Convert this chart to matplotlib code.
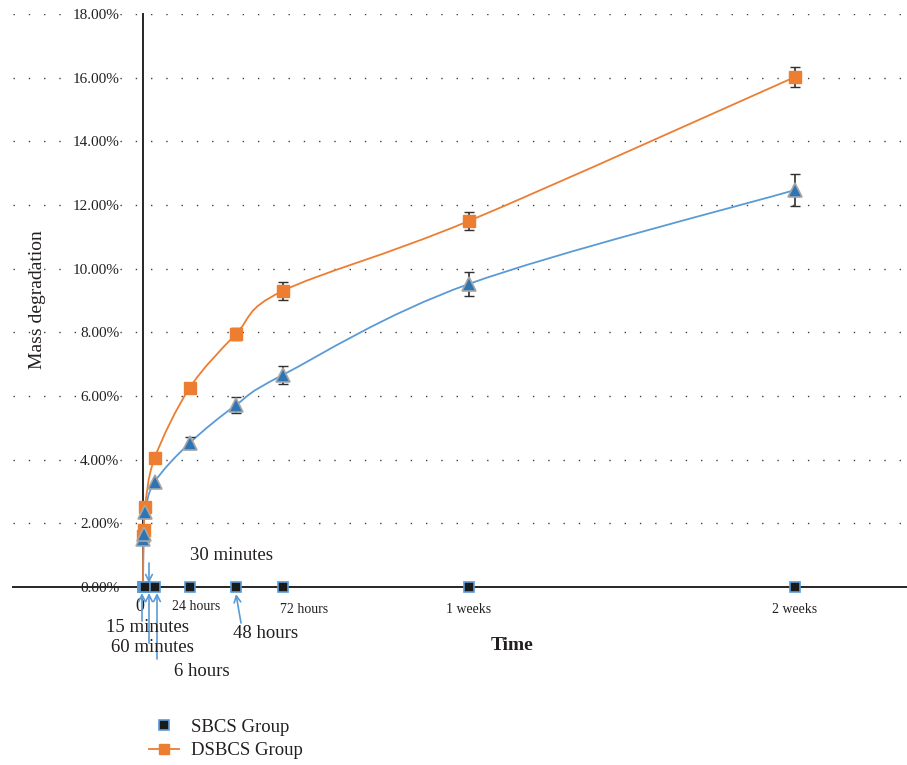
import numpy as np
import matplotlib.pyplot as plt
from matplotlib.path import Path
from matplotlib.patches import PathPatch
from matplotlib.lines import Line2D

plt.rcParams['font.family'] = ['Liberation Serif', 'DejaVu Serif']

# time points in hours
hours = [0, 0.25, 0.5, 1, 6, 24, 48, 72, 168, 336]
sbcs = [0, 0, 0, 0, 0, 0, 0, 0, 0, 0]
tri_vals = [0, 1.5, 1.65, 2.35, 3.3, 4.52, 5.72, 6.66, 9.52, 12.47]
tri_err = [0, 0, 0, 0, 0, 0.18, 0.24, 0.27, 0.39, 0.5]
dsbcs = [0, 1.6, 1.8, 2.5, 4.05, 6.25, 7.95, 9.3, 11.5, 16.02]
dsbcs_err = [0, 0, 0, 0, 0, 0.06, 0.2, 0.28, 0.28, 0.3]

yticks = [0, 2, 4, 6, 8, 10, 12, 14, 16, 18]
xlabels = ['0', '24 hours', '72 hours', '1 weeks', '2 weeks']
xlabel_pos = [-1.5, 27.5, 83, 168, 336]

TXT = '#231f20'
BLUE_LINE = '#5b9bd5'
BLUE_FILL = '#2e75b6'
ORANGE = '#ed7d31'

W, H = 907, 765
fig = plt.figure(figsize=(W / 100, H / 100), dpi=100)
ax = fig.add_axes([13 / W, (H - 587) / H, 894 / W, 573 / H])
ax.set_xlim(-67.0, 393.8)
ax.set_ylim(0, 18)


def smooth_path(xs, ys):
    # Excel-like smoothed line (Catmull-Rom as cubic Bezier)
    pts = np.column_stack([xs, ys]).astype(float)
    verts = [pts[0]]
    codes = [Path.MOVETO]
    n = len(pts)
    for i in range(n - 1):
        p0 = pts[i - 1] if i > 0 else pts[i]
        p1, p2 = pts[i], pts[i + 1]
        p3 = pts[i + 2] if i + 2 < n else pts[i + 1]
        c1 = p1 + (p2 - p0) / 6
        c2 = p2 - (p3 - p1) / 6
        verts += [c1, c2, p2]
        codes += [Path.CURVE4] * 3
    return Path(verts, codes)


ax.add_patch(PathPatch(smooth_path(hours, tri_vals), fill=False,
                       edgecolor=BLUE_LINE, lw=1.3, zorder=3))
ax.add_patch(PathPatch(smooth_path(hours, dsbcs), fill=False,
                       edgecolor=ORANGE, lw=1.3, zorder=3))

ax.errorbar(hours[5:], tri_vals[5:], yerr=tri_err[5:], fmt='none',
            ecolor='#303030', elinewidth=1.2, capsize=3.5, zorder=4)
ax.errorbar(hours[5:], dsbcs[5:], yerr=dsbcs_err[5:], fmt='none',
            ecolor='#303030', elinewidth=1.2, capsize=3.5, zorder=4)

ax.plot(hours[1:], dsbcs[1:], ls='none', marker='s', ms=8,
        mfc=ORANGE, mec=ORANGE, zorder=5)
ax.plot(hours[1:], tri_vals[1:], ls='none', marker='^', ms=10.5,
        mfc=BLUE_FILL, mec='#a6a6a6', mew=1.2, zorder=6)
ax.plot(hours, sbcs, ls='none', marker='s', ms=6.5, mfc='#1a1a1a',
        mec=BLUE_LINE, mew=1.2, zorder=7, clip_on=False)

# axes styling
for s in ['top', 'right']:
    ax.spines[s].set_visible(False)
ax.spines['left'].set_position(('data', 0))
ax.spines['left'].set_color('#262626')
ax.spines['left'].set_linewidth(1.4)
ax.spines['bottom'].set_color('#262626')
ax.spines['bottom'].set_linewidth(1.4)
ax.set_yticks(yticks)
ax.set_yticklabels(['%.2f%%' % v for v in yticks], fontsize=11, color=TXT)
ax.tick_params(axis='y', length=0, pad=17)
ax.set_xticks([])
for lab in ax.get_yticklabels()[1:]:
    lab.set_bbox(dict(facecolor='white', edgecolor='none', pad=0.5))
ax.grid(axis='y', color='#404040', lw=1, ls=(0, (1, 10)))
ax.set_axisbelow(True)

for lab, pos in zip(xlabels, xlabel_pos):
    big = lab == '0'
    ax.text(pos, -0.6 if big or lab == '24 hours' else -0.72, lab,
            ha='center', va='center', fontsize=13 if big else 10,
            color=TXT, clip_on=False)

fig.text(38 / W, 1 - 300 / H, 'Mass degradation', rotation=90,
         ha='center', va='center', fontsize=14, color=TXT)
fig.text(512 / W, 1 - 645 / H, 'Time', ha='center', va='center',
         fontsize=14, fontweight='bold', color=TXT)


def fp(x, y):
    return (x, H - y)


notes = [
    ('30 minutes', (232, 556), (149, 583), (149, 563)),
    ('15 minutes', (148, 627), (142, 593), (142, 621)),
    ('60 minutes', (152, 648), (149, 593), (149, 643)),
    ('6 hours', (202, 671), (157, 593), (157, 659)),
    ('48 hours', (266, 634), (236, 594), (241, 623)),
]
for txt, tpos, head, tail in notes:
    fig.text(tpos[0] / W, 1 - tpos[1] / H, txt, ha='center', va='center',
             fontsize=13.5, color=TXT, zorder=7)
    ax.annotate('', xy=fp(*head), xycoords='figure pixels',
                xytext=fp(*tail), textcoords='figure pixels',
                arrowprops=dict(arrowstyle='->', color=BLUE_LINE, lw=1.2,
                                mutation_scale=12, shrinkA=0, shrinkB=0),
                annotation_clip=False, zorder=8)

handles = [
    Line2D([], [], ls='none', marker='s', ms=6.5, mfc='#1a1a1a',
           mec=BLUE_LINE, mew=1.2),
    Line2D([], [], color=ORANGE, lw=1.3, marker='s', ms=7, mfc=ORANGE,
           mec=ORANGE),
]
fig.legend(handles, ['SBCS Group', 'DSBCS Group'], loc='center left',
           bbox_to_anchor=(140 / W, 1 - 739 / H), frameon=False,
           fontsize=13.5, handlelength=1.6, handletextpad=0.6,
           labelspacing=0.35, borderpad=0, labelcolor=TXT)

fig.savefig('out.png', dpi=100)
